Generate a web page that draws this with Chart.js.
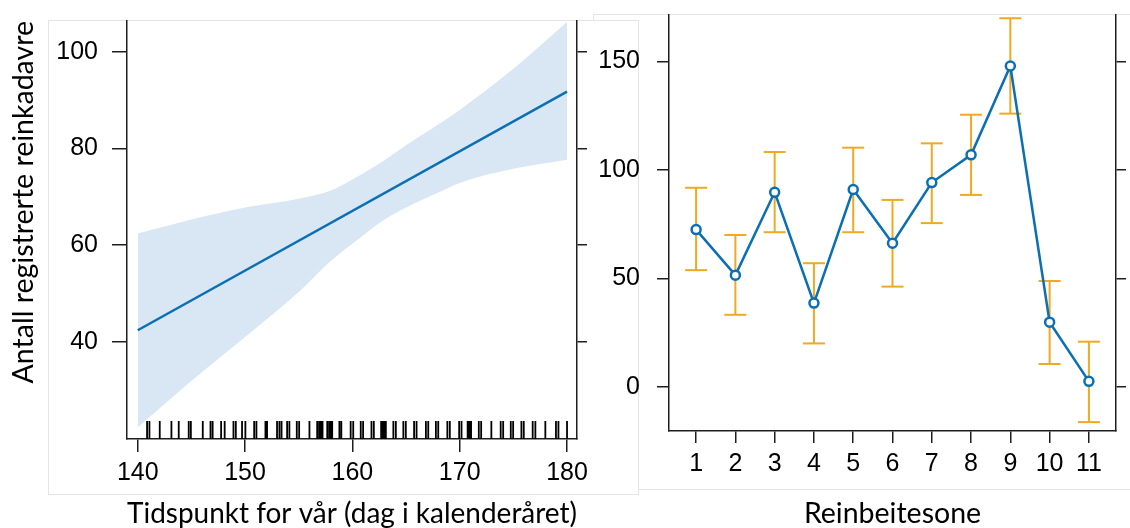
<!DOCTYPE html>
<html>
<head>
<meta charset="utf-8">
<script src="https://cdn.jsdelivr.net/npm/chart.js@4.4.1/dist/chart.umd.min.js"></script>
<style>
  html, body { margin: 0; padding: 0; background: #fff; overflow: hidden; }
  body { width: 1130px; height: 528px; position: relative; }
  .panel { position: absolute; background: #fff; border: 1px solid #e4e4e4; }
  #boxRight { left: 593px; top: 14px; width: 560px; height: 474px; z-index: 1; }
  #boxLeft { left: 48px; top: 20px; width: 589px; height: 473px; z-index: 2; }
  canvas { position: absolute; top: 0; z-index: 3; }
  #dayChart { left: 0; width: 640px; height: 528px; }
  #zoneChart { left: 590px; width: 540px; height: 528px; }
</style>
</head>
<body>
<div class="panel" id="boxRight"></div>
<div class="panel" id="boxLeft"></div>
<canvas id="dayChart" width="640" height="528"></canvas>
<canvas id="zoneChart" width="540" height="528"></canvas>
<script>
// venstre panel: tidspunkt for vår
const dayTicks = [140, 150, 160, 170, 180];
const leftCountTicks = [40, 60, 80, 100];
const fitDays = [140, 180];
const fitCounts = [42.4, 91.8];
const bandDays = [140, 145, 150, 155, 158, 160, 163, 165, 168, 170, 175, 180];
const bandUpper = [62.4, 65.3, 67.8, 69.6, 71.3, 73.6, 77.6, 80.7, 85.0, 88.0, 96.5, 106.2];
const bandLower = [22.3, 31.9, 41.0, 50.3, 56.8, 60.3, 65.3, 67.8, 70.9, 72.9, 75.8, 77.7];
const rugDays = [
    140.87, 141.09, 142.05, 143.14, 143.82, 144.75, 144.95, 146.06, 146.78, 146.98,
    147.77, 148.1, 148.92, 149.14, 149.72, 150.03, 150.85, 151.06, 151.9, 152.05,
    152.98, 153.2, 153.4, 153.92, 154.13, 154.82, 155.04, 156.0,
    156.72, 156.9, 157.05, 157.22, 157.66, 157.84, 158.0, 158.12, 158.79, 158.97,
    159.84, 160.08, 160.78, 161.0, 161.78, 162.0, 162.68, 162.85, 163.0, 163.12,
    163.82, 164.05, 164.75, 164.98, 165.75, 165.98, 166.85, 167.07, 167.78, 168.0,
    168.85, 169.08, 169.95, 170.17, 170.74, 170.9, 171.06, 171.78, 172.0, 172.95,
    173.82, 174.05, 174.76, 174.98, 175.75, 175.97, 176.8, 177.05, 177.98,
    178.97, 179.2, 180.0
];

// høyre panel: reinbeitesone
const zones = [1, 2, 3, 4, 5, 6, 7, 8, 9, 10, 11];
const zoneMeans = [72.5, 51.5, 89.7, 38.6, 91.0, 66.2, 94.2, 107.0, 148.0, 29.8, 2.5];
const zoneLower = [53.8, 33.2, 71.3, 20.0, 71.3, 46.2, 75.5, 88.5, 126.0, 10.5, -16.3];
const zoneUpper = [91.8, 70.0, 108.3, 57.0, 110.3, 86.2, 112.3, 125.5, 170.0, 48.8, 20.8];
const rightCountTicks = [0, 50, 100, 150];

const frameColor = '#1e1e1e';
const lineBlue = '#0b70b3';
const bandBlue = '#d8e7f3';
const barOrange = '#efa922';
const tickFont = { family: "'Liberation Sans', Arial, sans-serif", size: 25 };
const titleFont = { family: "Lato, 'Open Sans', sans-serif", size: 28.5 };

function fixedTicks(values) {
    return scale => { scale.ticks = values.map(v => ({ value: v })); };
}

// fast størrelse, og ingen ekstra luft for etikettene i kantene
function fixedSize(w, h) {
    return scale => {
        if (w !== null) scale.width = w;
        if (h !== null) scale.height = h;
        scale.paddingTop = 0;
        scale.paddingBottom = 0;
        scale.paddingLeft = 0;
        scale.paddingRight = 0;
    };
}

function toPoints(xs, ys) {
    return xs.map((x, i) => ({ x: x, y: ys[i] }));
}

const rugPlugin = {
    id: 'rug',
    afterDatasetsDraw(chart, args, opts) {
        const { ctx, chartArea } = chart;
        const xScale = chart.scales.x;
        ctx.save();
        ctx.strokeStyle = opts.color;
        ctx.lineWidth = opts.width;
        ctx.beginPath();
        rugDays.forEach(d => {
            const px = xScale.getPixelForValue(d);
            ctx.moveTo(px, chartArea.bottom);
            ctx.lineTo(px, chartArea.bottom - opts.length);
        });
        ctx.stroke();
        ctx.restore();
    }
};

function axisBase(extra) {
    return Object.assign({
        type: 'linear',
        grid: { drawOnChartArea: false, drawTicks: true, color: frameColor, lineWidth: 1.5 },
        border: { display: true, color: frameColor, width: 1.5 },
        ticks: { font: tickFont, color: '#000', maxRotation: 0 }
    }, extra);
}

function initializeDayChart() {
    const ctx = document.getElementById('dayChart');
    if (!ctx) return null;

    return new Chart(ctx, {
        type: 'line',
        data: {
            datasets: [{
                data: toPoints(fitDays, fitCounts),
                borderColor: lineBlue,
                borderWidth: 2.5,
                pointRadius: 0,
                fill: false,
                order: 0
            }, {
                data: toPoints(bandDays, bandUpper),
                borderColor: 'rgba(0,0,0,0)',
                borderWidth: 1,
                pointRadius: 0,
                cubicInterpolationMode: 'monotone',
                fill: false,
                order: 1
            }, {
                data: toPoints(bandDays, bandLower),
                borderColor: 'rgba(0,0,0,0)',
                borderWidth: 1,
                pointRadius: 0,
                cubicInterpolationMode: 'monotone',
                backgroundColor: bandBlue,
                fill: '-1',
                order: 2
            }]
        },
        options: {
            responsive: false,
            animation: false,
            layout: { padding: { top: 21, left: 0, right: 0, bottom: 0 } },
            plugins: {
                legend: { display: false },
                tooltip: { enabled: false },
                rug: { color: '#000', width: 1.8, length: 18 }
            },
            scales: {
                x: axisBase({
                    min: 139,
                    max: 180.93,
                    afterBuildTicks: fixedTicks(dayTicks),
                    afterFit: fixedSize(null, 89),
                    grid: { drawOnChartArea: false, color: frameColor, lineWidth: 1.5, tickLength: 13 },
                    ticks: { font: tickFont, color: '#000', maxRotation: 0, padding: 6 },
                    title: {
                        display: true,
                        text: 'Tidspunkt for vår (dag i kalenderåret)',
                        font: Object.assign({ lineHeight: 1 }, titleFont),
                        color: '#000',
                        padding: { top: 0, bottom: 0 }
                    }
                }),
                y: axisBase({
                    position: 'left',
                    min: 19.9,
                    max: 106.4,
                    afterBuildTicks: fixedTicks(leftCountTicks),
                    afterFit: fixedSize(127, null),
                    grid: { drawOnChartArea: false, color: frameColor, lineWidth: 1.5, tickLength: 15 },
                    ticks: { font: tickFont, color: '#000', padding: 14 },
                    title: {
                        display: true,
                        text: 'Antall registrerte reinkadavre',
                        align: 'end',
                        font: titleFont,
                        color: '#000',
                        padding: { top: 7, bottom: 0 }
                    }
                }),
                yMirror: axisBase({
                    position: 'right',
                    min: 19.9,
                    max: 106.4,
                    afterBuildTicks: fixedTicks(leftCountTicks),
                    afterFit: fixedSize(63, null),
                    grid: { drawOnChartArea: false, color: frameColor, lineWidth: 1.5, tickLength: 10 },
                    ticks: { display: false }
                })
            }
        },
        plugins: [rugPlugin]
    });
}

function initializeZoneChart() {
    const ctx = document.getElementById('zoneChart');
    if (!ctx) return null;

    // feilstolper som ett linjesett, brutt med null mellom sonene
    const errorPoints = [];
    zones.forEach((z, i) => {
        errorPoints.push({ x: z, y: zoneLower[i] });
        errorPoints.push({ x: z, y: zoneUpper[i] });
        errorPoints.push({ x: z, y: null });
    });

    return new Chart(ctx, {
        type: 'line',
        data: {
            datasets: [{
                data: toPoints(zones, zoneMeans),
                borderColor: lineBlue,
                borderWidth: 2.5,
                pointStyle: 'circle',
                pointRadius: 4.5,
                pointBorderWidth: 2.5,
                pointBorderColor: lineBlue,
                pointBackgroundColor: '#ffffff',
                fill: false,
                order: 0
            }, {
                data: errorPoints,
                borderColor: barOrange,
                borderWidth: 2,
                spanGaps: false,
                pointStyle: 'line',
                pointRadius: c => (c.raw && c.raw.y !== null ? 11 : 0),
                pointBorderWidth: 2,
                pointBorderColor: barOrange,
                fill: false,
                order: 1
            }]
        },
        options: {
            responsive: false,
            animation: false,
            layout: { padding: { top: 15, left: 0, right: 0, bottom: 0 } },
            plugins: {
                legend: { display: false },
                tooltip: { enabled: false }
            },
            scales: {
                x: axisBase({
                    min: 0.31,
                    max: 11.69,
                    afterBuildTicks: fixedTicks(zones),
                    afterFit: fixedSize(null, 97),
                    grid: { drawOnChartArea: false, color: frameColor, lineWidth: 1.5, tickLength: 12 },
                    ticks: { font: tickFont, color: '#000', maxRotation: 0, padding: 6 },
                    title: {
                        display: true,
                        text: 'Reinbeitesone',
                        font: Object.assign({ lineHeight: 1 }, titleFont),
                        color: '#000',
                        padding: { top: 0, bottom: 0 }
                    }
                }),
                y: axisBase({
                    position: 'left',
                    min: -20.4,
                    max: 171.5,
                    afterBuildTicks: fixedTicks(rightCountTicks),
                    afterFit: fixedSize(79, null),
                    grid: { drawOnChartArea: false, color: frameColor, lineWidth: 1.5, tickLength: 12 },
                    ticks: { font: tickFont, color: '#000', padding: 17 }
                }),
                yMirror: axisBase({
                    position: 'right',
                    min: -20.4,
                    max: 171.5,
                    afterBuildTicks: fixedTicks(rightCountTicks),
                    afterFit: fixedSize(14, null),
                    grid: { drawOnChartArea: false, color: frameColor, lineWidth: 1.5, tickLength: 10 },
                    ticks: { display: false }
                })
            }
        }
    });
}

document.addEventListener('DOMContentLoaded', () => {
    initializeDayChart();
    initializeZoneChart();
});
</script>
</body>
</html>
